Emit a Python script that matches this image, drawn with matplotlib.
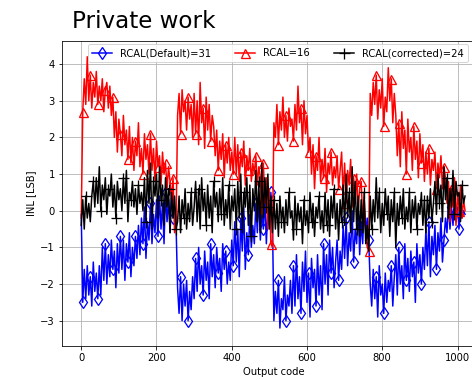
import numpy as np
import matplotlib
matplotlib.use("Agg")
import matplotlib.pyplot as plt

# output codes, one sample every 4 codes
codes = np.arange(0, 1024, 4)

# INL [LSB], one row block per 256-code segment
inl_default = [
    # 0-252
    -0.1, -2.5, -1.6, -2.4, -1.5, -2.3, -1.8, -2.6, -1.4, -2.2, -1.7, -2.4, -1.5,
    -2.3, -1.0, -1.9, -0.9, -2.0, -1.2, -1.8, -0.8, -1.6, -1.1, -2.1, -0.9, -1.7,
    -0.7, -1.6, -0.8, -1.9, -0.9, -1.4, -0.6, -1.8, -1.0, -1.5, -0.7, -1.3,
    -0.4, -1.2, -0.2, -0.9, 0.1, -1.3, -0.3, -0.8, 0.2, -0.9, -0.1, -0.6, 0.3,
    -0.7, 0.4, -0.5, 0.2, -0.9, 0.5, -0.3, 0.3, -0.6, 0.6, -0.2, 0.1, -0.4,
    # 256-508
    -2.1, -2.8, -1.8, -3.0, -2.0, -2.6, -1.9, -3.0, -2.2, -2.7, -1.8,
    -2.4, -1.3, -2.2, -1.0, -2.0, -1.5, -2.3, -1.1, -1.9, -1.4, -2.4, -0.9, -1.8, -1.2,
    -2.1, -1.0, -1.7, -1.3, -2.2, -0.9, -1.6, -1.1, -2.0, -1.4, -1.9, -0.8, -1.5,
    -0.3, -1.4, -0.5, -1.8, -0.2, -1.1, 0.1, -1.6, -0.6, -1.2, -0.1, -1.0, -0.4,
    -0.9, 0.2, -0.6, 0.4, -0.8, 0.0, -0.5, 0.3, -0.9, 0.1, -0.4, 0.5, -0.2,
    # 512-764
    -3.0, -2.2, -2.8, -1.9, -3.2, -2.4, -2.7, -1.8, -3.0, -2.3, -2.6, -1.9, -2.8,
    -1.5, -2.6, -1.2, -2.4, -1.8, -2.8, -1.4, -2.2, -1.1, -2.5,
    -1.7, -2.9, -1.3, -2.1, -1.6, -2.6, -1.2, -2.3, -1.5, -2.7,
    -0.9, -2.0, -1.2, -2.3, -0.8, -1.7, -1.0, -2.1, -1.4, -0.8, -1.9, -1.1, -1.6,
    -0.4, -1.3, -0.2, -1.5, -0.6, -1.1, 0.0, -1.4, -0.5, -0.9, 0.1, -1.2,
    -0.3, -0.9, 0.1, -0.6, -0.2, -0.8,
    # 768-1020
    -2.0, -2.6, -1.6, -2.4, -1.8, -2.9, -1.5, -2.3, -2.0, -2.8, -1.7, -2.5, -1.9,
    -2.2, -1.5, -2.6, -1.8,
    -1.2, -2.3, -1.0, -2.0, -1.5, -2.4, -0.9, -1.9, -1.3, -2.2,
    -1.1, -1.8, -1.4, -2.5, -0.9, -1.7, -1.2, -2.0, -1.0, -1.6,
    -0.5, -1.5, -0.3, -1.8, -0.7, -1.2, -0.4, -1.6, -0.6, -1.1, -0.2, -1.4, -0.8,
    -0.2, -0.6, 0.2, -0.5, 0.1, -0.4, 0.3, -0.3, 0.1, -0.5, 0.2, -0.2, 0.0, -0.1,
]

inl_16 = [
    # 0-252
    -0.2, 2.7,
    3.6, 2.9, 4.2, 3.0, 3.7, 2.8, 3.5, 3.1, 3.8, 2.9, 3.4, 3.0, 3.6, 2.7, 3.3, 3.5, 2.8, 3.4, 2.6,
    3.1, 2.0, 2.7, 1.6, 2.5, 2.1, 1.5, 2.6, 1.8, 2.2, 1.4,
    2.3, 1.3, 2.0, 1.1, 1.9, 1.5, 2.4, 1.2, 1.7, 1.0, 2.1, 1.4, 1.8, 1.0,
    2.1, 1.1, 1.7, 0.8, 1.9, 1.2, 1.5, 0.7, 1.6, 1.0, 1.3, 0.6, 1.2, 0.8,
    0.3, 0.9, -0.6, -0.4,
    # 256-508
    2.6, 3.2, 2.1, 3.3, 2.7, 3.0, 2.2, 3.1, 2.5, 2.9, 2.0,
    3.2, 2.1, 3.0, 1.8, 3.5, 2.4, 2.8, 1.7, 3.1, 2.2, 2.9, 1.9, 2.6, 2.3,
    1.5, 2.2, 1.1, 1.9, 1.4, 2.1, 0.9, 1.8, 1.3, 2.0, 1.1, 1.6, 1.0,
    2.0, 1.0, 1.8, 0.8, 1.6, 1.2, 1.9, 0.7, 1.5, 1.1, 1.7, 0.8, 1.3, 1.0, 1.5, 0.7, 1.2, 0.9,
    -0.1, 1.3, 0.2, 0.9, -0.5, 0.6, -0.9, -1.0,
    # 512-764
    2.4, 2.0, 2.9, 1.8, 2.7, 2.2, 3.1, 2.0, 2.6, 1.9, 2.8, 2.3, 2.5,
    1.9, 2.9, 2.2, 3.4, 2.4, 2.8, 1.8, 3.0, 2.1, 2.6, 1.6,
    2.0, 1.0, 1.8, 0.6, 1.5, 1.1, 2.0, 0.8, 1.4, 0.9, 1.7, 0.5, 1.3, 1.0, 1.6, 0.7,
    1.2, 0.9, 1.5, 0.6, 1.1,
    1.6, 0.4, 1.3, 0.2, 1.1, 0.7, 1.4, 0.1, 0.9, 0.3, 1.0, 0.0, 0.6,
    0.8, -0.2, 0.3, -0.5, -1.0, -1.1,
    # 768-1020
    3.2, 2.6, 3.5, 2.9, 3.7, 2.5, 3.3, 2.8, 3.6, 2.3, 3.1, 2.7, 3.9, 3.0, 3.6, 2.4, 3.2,
    2.6, 1.5, 2.4, 1.2, 2.7, 1.7, 2.2, 1.0, 2.5, 1.6, 2.0, 1.1, 2.3, 1.4, 1.9, 0.9, 2.1, 1.3,
    1.8, 0.8, 1.6, 1.0, 1.7, 0.7, 1.4, 1.1, 1.6, 0.6, 1.3, 0.9, 1.5, 0.6, 1.2,
    0.9, 0.2, 0.8, -0.3, 0.6, 0.1, 0.9, -0.4, 0.5, 0.0, 0.7, -0.2, 0.3, 0.0,
]

inl_corrected = [
    # 0-252
    -0.4,
    0.3, -0.5, 0.4, -0.2, 0.2, -0.3, 0.4,
    0.8, 0.1, 0.9, 0.2, 1.2, 0.0, 0.7, 0.3, 0.9, -0.1, 0.6, 0.4, 1.0, 0.1, 0.7, -0.2, 0.8,
    0.3, 0.6, 0.0, 0.9, 0.2, 1.1, -0.3, 0.5, 0.3, 0.8, 0.1, 0.6, -0.1, 0.7, 0.2, 0.5, 0.0,
    0.9, -0.3, 1.1, 0.2, 1.3, -0.5, 0.8, 0.4, 1.0, -0.2, 1.2, 0.3, 0.7, -0.4, 0.9, 0.1,
    0.6, -0.6, 0.5, -0.2, 0.4, -0.5,
    # 256-508
    -0.3, 0.4, -0.6, 0.3, -0.2, 0.6, -0.5, 0.2, -0.3, 0.5, -0.4, 0.1,
    0.8, -0.3, 0.6, -0.5, 0.9, 0.0, 0.5, -0.4, 0.7, -0.2, 0.4, -0.6, 0.8,
    0.1, 0.5, -0.3, 0.6, -0.1, 0.9, -0.4, 0.3, -0.2, 0.7, -0.5, 0.4, 0.0,
    0.6, -0.5, 0.8, -0.2, 1.0, -0.6, 0.5, 0.1, 0.9, -0.4, 0.7, -0.7, 0.6,
    0.0, 1.1, -0.3, 0.8, -0.6, 1.3, -0.2, 0.9, 0.1, 1.0, -0.5, 0.4, -0.6,
    # 512-764
    0.3, -0.5, 0.2, -0.7, 0.4, -0.3, 0.1, -0.6, 0.3, -0.4, 0.5, -0.2, 0.0, -0.8, 0.4, -0.5,
    0.2, -0.3, 0.1, -0.9, 0.3, -0.4, 0.0, -0.6, 0.5, -0.3, 0.2, -0.7, 0.1, -0.2, 0.4, -0.5, 0.0,
    -0.6, 0.5, -0.4, 0.3, -0.7, 0.4, -0.2, 0.6, -0.5, 0.2, -0.8, 0.3, -0.3,
    0.7, -0.4, 1.0, -0.2, 0.5, -0.6, 1.2, -0.3, 0.8, -0.5, 0.4, -0.7,
    0.3, -0.6, 0.5, -0.9, -0.4, -1.1,
    # 768-1020
    0.4, -0.5, 0.3, -0.3, 0.9, -0.2, 0.5, -0.6, 0.2, -0.4, 0.6, -0.1, 0.4, -0.7, 0.3,
    -0.3, 0.5, -1.0, 0.2, -0.4, 0.4, -0.2, 0.6, -0.5, 0.1, -0.3, 0.5, -0.6, 0.3, -0.2,
    0.4, -0.5, 0.2, -0.1, 0.5, -0.4, 0.3, -0.6, 0.4, -0.2, 0.6, -0.3, 0.2,
    0.8, -0.1, 1.0, 0.2, 0.7, -0.3, 1.2, 0.3, 0.9, -0.2, 0.6, 0.1, 1.1, -0.1, 0.8, 0.4,
    0.5, -0.3, 0.7, 0.2, 0.4,
]

W, H = 472, 380
fig = plt.figure(figsize=(W / 72, H / 72), dpi=72)
ax = fig.add_axes([62 / W, 34 / H, 423.4 / W, 305 / H])

ax.plot(codes, inl_default, color="b", marker="d", markersize=9, mfc="none",
        mew=1.3, markevery=(1, 5), label="RCAL(Default)=31")
ax.plot(codes, inl_16, color="r", marker="^", markersize=9, mfc="none",
        mew=1.3, markevery=(1, 5), label="RCAL=16")
ax.plot(codes, inl_corrected, color="k", marker="+", markersize=11,
        mew=1.3, markevery=(3, 5), label="RCAL(corrected)=24")

ax.set_xlim(-51.15, 1074.15)
ax.set_ylim(-3.69, 4.63)
ax.grid(True)
ax.set_xlabel("Output code")
ax.set_ylabel("INL [LSB]")
ax.legend(loc="upper left", ncol=3, bbox_to_anchor=(0.0614, 0.99),
          borderaxespad=0, columnspacing=2.4)

fig.text(72 / W, 1 - 27.5 / H, "Private work", fontsize=23, va="baseline")

fig.savefig("out.png", dpi=72)
